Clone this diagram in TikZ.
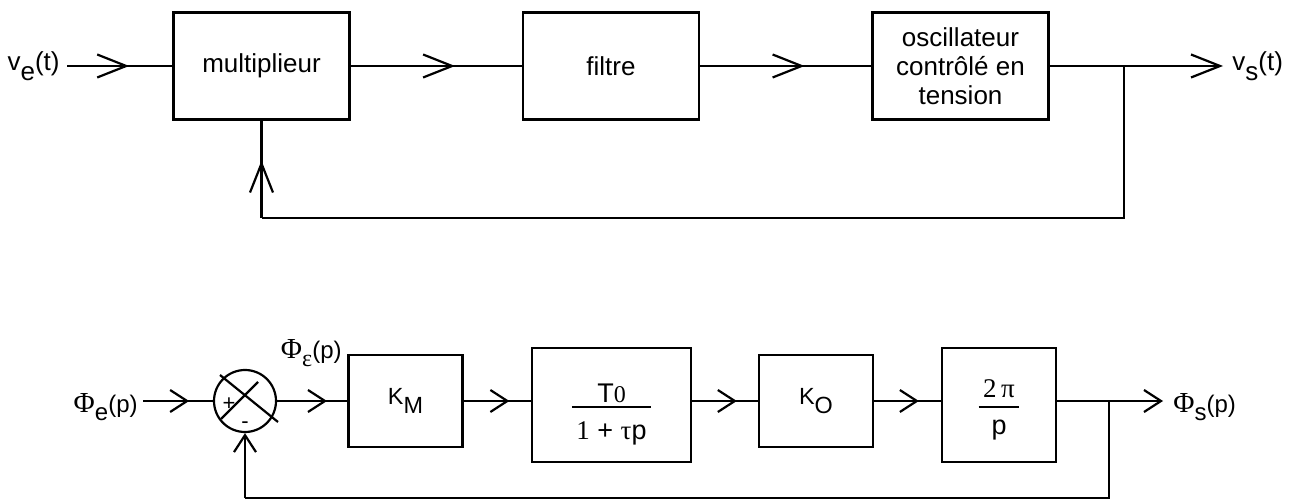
\documentclass[tikz,border=0pt]{standalone}
\usepackage{fontspec}
\setmainfont{Liberation Sans}
\newfontfamily\serifgr{Liberation Serif}
\usetikzlibrary{calc,arrows.meta,decorations.markings}
\setlength{\arrayrulewidth}{1pt}
\newcommand{\lowsub}[1]{\raisebox{-0.35em}{#1}}
\tikzset{
  vbig/.tip={Straight Barb[length=14.5pt,width=11.5pt]},
  vsmall/.tip={Straight Barb[length=8.5pt,width=11pt]},
  wire/.style={draw=black, line width=1.1pt},
  blk/.style={draw=black, line width=1.1pt, rectangle, inner sep=0pt, align=center},
  blktop/.style={blk, minimum width=88pt, minimum height=53.5pt, font=\fontsize{13}{14.5}\selectfont},
  blkbot/.style={blk, minimum width=57pt, font=\fontsize{11.7}{14}\selectfont},
  fracbox/.style={blk, minimum height=57pt, font=\fontsize{13.5}{16}\selectfont},
  sumc/.style={draw=black, line width=1.1pt, circle, minimum size=31pt, inner sep=0pt},
  lbltop/.style={inner sep=0pt, font=\fontsize{13}{14.5}\selectfont},
  lblbot/.style={inner sep=0pt, font=\fontsize{12}{14}\selectfont},
  sgn/.style={inner sep=0pt, font=\fontsize{11}{12}\selectfont},
  midtop/.style={postaction={decorate}, decoration={markings, mark=at position #1 with {\arrow{vbig}}}},
  midbot/.style={postaction={decorate}, decoration={markings, mark=at position #1 with {\arrow{vsmall}}}},
}
\newcommand{\bigphi}{{\serifgr\fontsize{14.5}{16}\selectfont Φ}}

\begin{document}
\begin{tikzpicture}[x=0.5pt,y=-0.5pt]
  \useasboundingbox (0,0) rectangle (1293,501);
  % schema fonctionnel
  \node[blktop] (mult) at (261.5,66) {multiplieur};
  \node[blktop] (filt) at (611,66) {filtre};
  \node[blktop] (vco)  at (960.5,66) {oscillateur\\contrôlé en\\tension};
  \node[lbltop,anchor=base east] (ve) at (60,71) {v\lowsub{e}(t)};
  \node[lbltop,anchor=base west] (vs) at (1232,71) {v\lowsub{s}(t)};
  \coordinate (vein) at (67,66);
  \coordinate (vsout) at (1223,66);
  \coordinate (br1) at (1124,66);
  \coordinate (fb1) at (1124,218);
  \coordinate (fb2) at (mult.south |- fb1);
  \draw[wire,midtop=0.59] (vein) -- (mult.west);
  \draw[wire,midtop=0.61] (mult.east) -- (filt.west);
  \draw[wire,midtop=0.61] (filt.east) -- (vco.west);
  \draw[wire,-vbig] (vco.east) -- (vsout);
  \draw[wire] (br1) -- (fb1) -- (fb2);
  \draw[wire,midtop=0.59] (fb2) -- (mult.south);

  % modele lineaire en phase
  \node[sumc] (sum) at (245,401) {};
  \draw[wire] ($(sum)+(-25,-26)$) -- ($(sum)+(33,21)$);
  \draw[wire] ($(sum)+(-24,18)$) -- ($(sum)+(13,-19)$);
  \node[sgn] (plus) at (229,404) {+};
  \node[sgn] (minus) at (245,425) {-};
  \node[blkbot,minimum height=46pt] (km) at (405.5,401) {K\lowsub{M}};
  \node[fracbox,minimum width=79.5pt,text height=19pt,text depth=22pt] (tf) at (611.5,405)
    {\begin{tabular}[t]{@{\,}c@{\,}}T{\serifgr\fontsize{12}{12}\selectfont 0}\\[-2.8pt]\hline
     \rule{0pt}{15.5pt}{\serifgr 1} + {\serifgr τ}p\end{tabular}};
  \node[blkbot,minimum height=46pt] (ko) at (816,401) {K\lowsub{O}};
  \node[fracbox,minimum width=57pt,text height=17pt,text depth=24pt] (integ) at (999,405)
    {\begin{tabular}[t]{@{\,}c@{\,}}{\serifgr 2\,π}\\[-1pt]\hline
     \rule{0pt}{13.5pt}p\end{tabular}};
  \node[lblbot,anchor=base east] (phie) at (138,412) {\bigphi\lowsub{e}(p)};
  \node[lblbot,anchor=base west] (phis) at (1173,412) {\bigphi\lowsub{s}(p)};
  \node[lblbot,anchor=base east] (phieps) at (342,358) {\bigphi\lowsub{\serifgr ε}(p)};
  \coordinate (phin) at (143,401);
  \coordinate (phout) at (1163,401);
  \coordinate (br2) at (1109,401);
  \coordinate (fb3) at (1109,498);
  \coordinate (fb4) at (sum.south |- fb3);
  \draw[wire,midbot=0.66] (phin) -- (sum.west);
  \draw[wire,midbot=0.71] (sum.east) -- (km.west);
  \draw[wire,midbot=0.68] (km.east) -- (tf.west |- km.east);
  \draw[wire,midbot=0.68] (tf.east |- ko.west) -- (ko.west);
  \draw[wire,midbot=0.67] (ko.east) -- (integ.west |- ko.east);
  \draw[wire,-vsmall] (integ.east |- phout) -- (phout);
  \draw[wire] (br2) -- (fb3) -- (fb4);
  \draw[wire,-vsmall] (fb4) -- (sum.south);
\end{tikzpicture}
\end{document}
